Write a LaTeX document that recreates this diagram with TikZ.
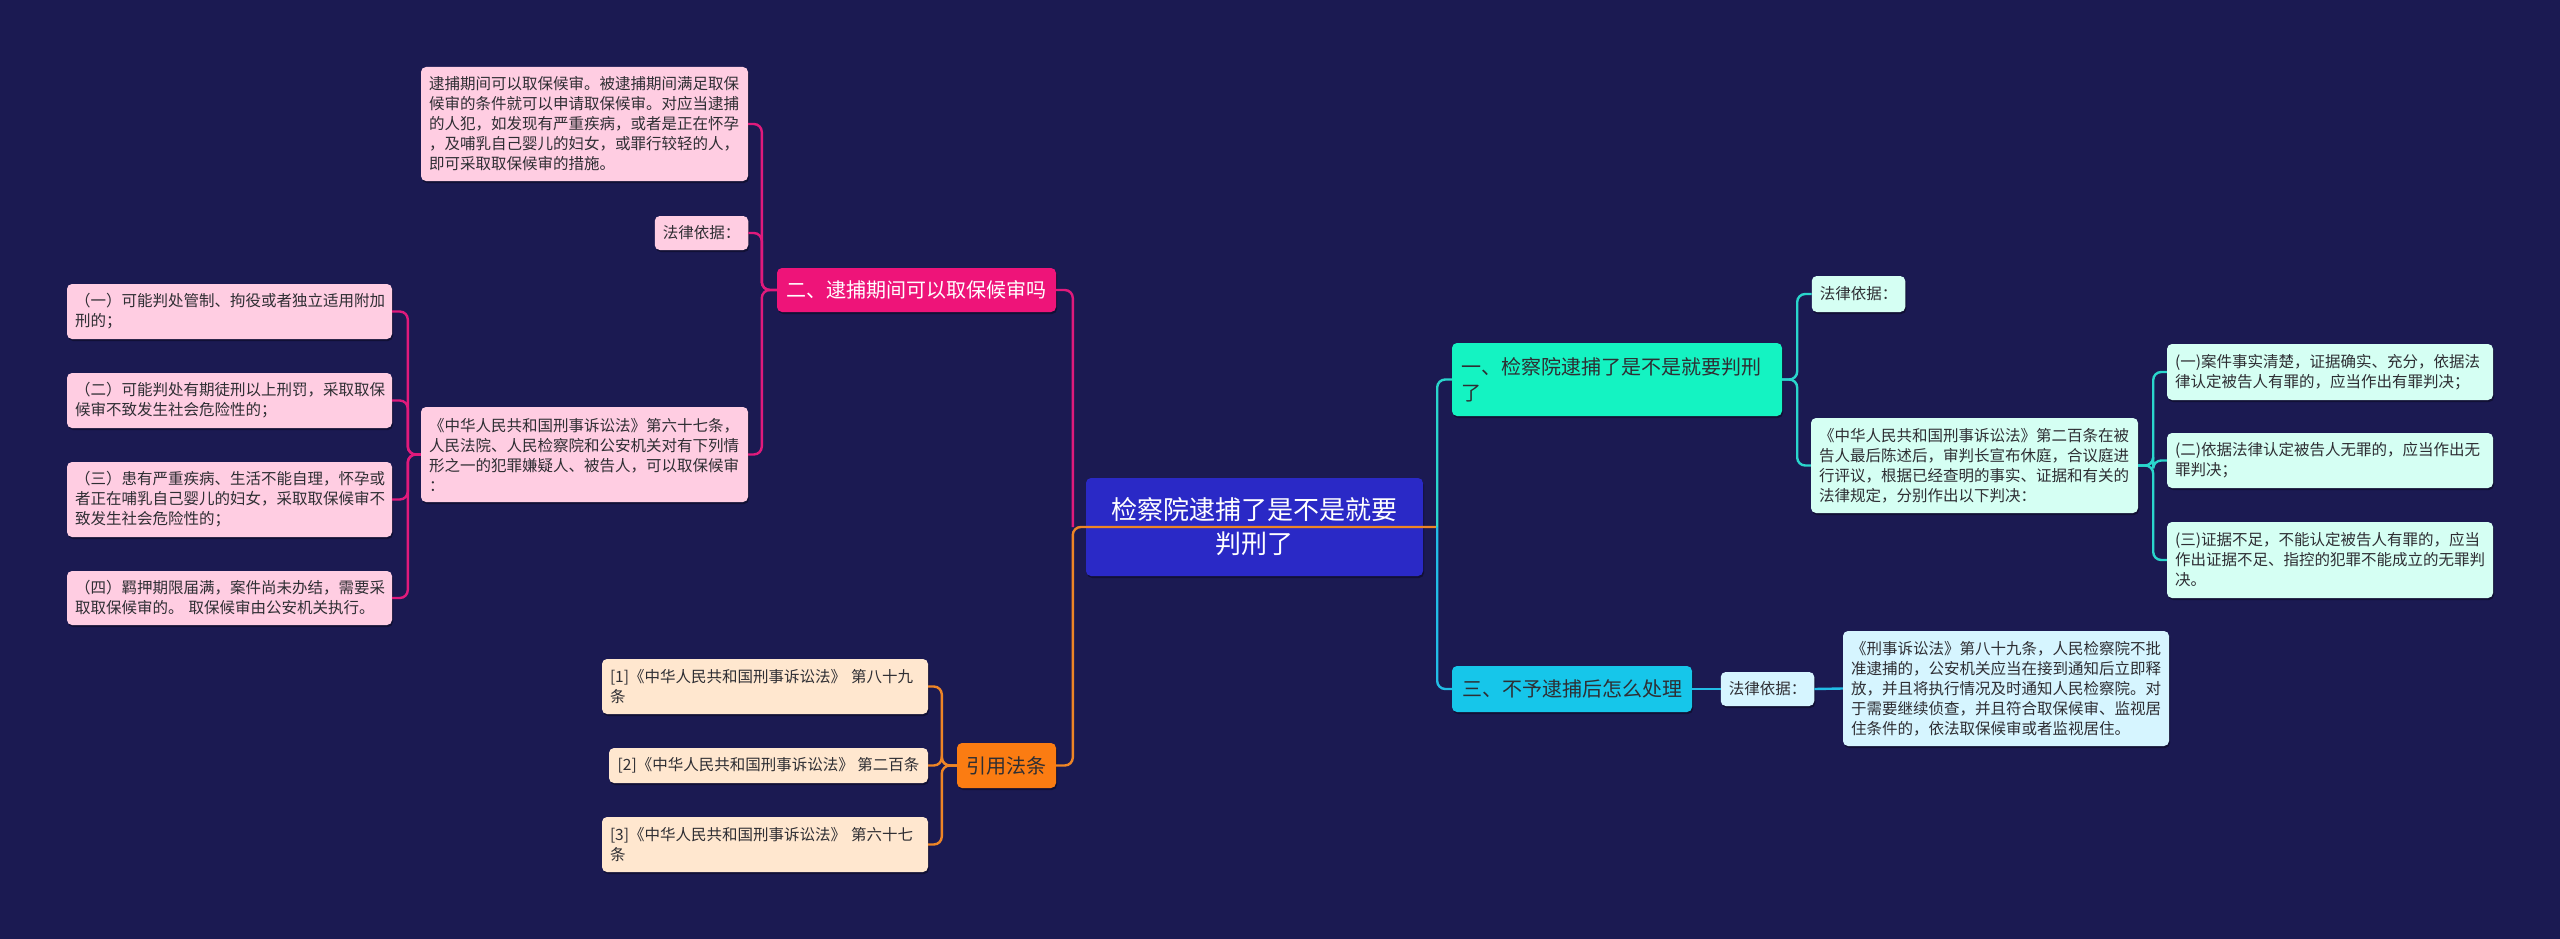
\documentclass[tikz,border=0pt]{standalone}
\usepackage{fontspec}
\newfontfamily\cjk{Noto Sans CJK SC}
\usetikzlibrary{shadows}
\definecolor{bg}{HTML}{1B1A52}
\definecolor{centerc}{HTML}{2A29C6}
\definecolor{pinkmain}{HTML}{EE1479}
\definecolor{pinklight}{HTML}{FFCDE2}
\definecolor{pinkline}{HTML}{E01A7C}
\definecolor{orgmain}{HTML}{FB7C12}
\definecolor{orglight}{HTML}{FFE7CF}
\definecolor{orgline}{HTML}{EE8526}
\definecolor{aquamain}{HTML}{14F3C2}
\definecolor{aqualight}{HTML}{D5FFF3}
\definecolor{aqualine}{HTML}{2AD6CC}
\definecolor{bluemain}{HTML}{16C6EA}
\definecolor{bluelight}{HTML}{D6F5FF}
\definecolor{blueline}{HTML}{22BDE6}
\definecolor{txt}{HTML}{2E2E33}
\begin{document}
\begin{tikzpicture}[x=1pt,y=-1pt,
  base/.style={rounded corners=5pt, inner xsep=8pt, inner ysep=0pt, align=left, text=txt,
    font=\cjk\fontsize{15.5}{20}\selectfont,
    drop shadow={shadow xshift=1pt, shadow yshift=-2pt, opacity=0.35, fill=black}},
  pbox/.style={base, fill=pinklight},
  obox/.style={base, fill=orglight},
  abox/.style={base, fill=aqualight},
  bbox/.style={base, fill=bluelight},
  mainbox/.style={base, font=\cjk\fontsize{20}{26}\selectfont, align=center},
  conn/.style={line width=2.4pt, rounded corners=8pt},
  pl/.style={conn, draw=pinkline},
  ol/.style={conn, draw=orgline},
  al/.style={conn, draw=aqualine},
  bl/.style={conn, draw=blueline}]
\useasboundingbox[fill=bg] (0,0) rectangle (2560,939);

% ---- central node
\node[base, fill=centerc, text=white, align=center, font=\cjk\fontsize{26}{34}\selectfont,
  text width=321pt, minimum height=98pt] (center) at (1254.5,527) {检察院逮捕了是不是就要\\判刑了};

% ---- left branch (pink)
\node[mainbox, fill=pinkmain, text=white, minimum width=279pt, minimum height=44pt] (er) at (916.5,290) {二、逮捕期间可以取保候审吗};
\node[pbox, text width=311pt, minimum height=114pt] (p1) at (584.5,124) {逮捕期间可以取保候审。被逮捕期间满足取保\\候审的条件就可以申请取保候审。对应当逮捕\\的人犯，如发现有严重疾病，或者是正在怀孕\\，及哺乳自己婴儿的妇女，或罪行较轻的人，\\即可采取取保候审的措施。};
\node[pbox, align=center, minimum width=93pt, minimum height=34pt] (fl1) at (701.5,233) {法律依据：};
\node[pbox, text width=311pt, minimum height=95pt] (p67) at (584.5,454.5) {《中华人民共和国刑事诉讼法》第六十七条，\\人民法院、人民检察院和公安机关对有下列情\\形之一的犯罪嫌疑人、被告人，可以取保候审\\：};
\node[pbox, text width=309pt, minimum height=55pt] (l1) at (229.5,311.5) {（一）可能判处管制、拘役或者独立适用附加\\刑的；};
\node[pbox, text width=309pt, minimum height=55pt] (l2) at (229.5,400.5) {（二）可能判处有期徒刑以上刑罚，采取取保\\候审不致发生社会危险性的；};
\node[pbox, text width=309pt, minimum height=75pt] (l3) at (229.5,499.5) {（三）患有严重疾病、生活不能自理，怀孕或\\者正在哺乳自己婴儿的妇女，采取取保候审不\\致发生社会危险性的；};
\node[pbox, text width=309pt, minimum height=54pt] (l4) at (229.5,598) {（四）羁押期限届满，案件尚未办结，需要采\\取取保候审的。 取保候审由公安机关执行。};

% ---- orange branch
\node[mainbox, fill=orgmain, text=txt, minimum width=99pt, minimum height=45pt] (yy) at (1006.5,765.5) {引用法条};
\node[obox, text width=310pt, minimum height=55pt] (r1) at (765,686.5) {[1]《中华人民共和国刑事诉讼法》 第八十九\\条};
\node[obox, inner xsep=7pt, minimum width=319pt, minimum height=35pt] (r2) at (768.5,765.5) {[2]《中华人民共和国刑事诉讼法》 第二百条};
\node[obox, text width=310pt, minimum height=55pt] (r3) at (765,844.5) {[3]《中华人民共和国刑事诉讼法》 第六十七\\条};

% ---- right branch (aqua)
\node[mainbox, fill=aquamain, align=left, text width=312pt, inner xsep=9pt, minimum height=73pt] (yi) at (1617,379.5) {一、检察院逮捕了是不是就要判刑\\了};
\node[abox, align=center, minimum width=91pt, minimum height=36pt] (fl2) at (1858.5,294) {法律依据：};
\node[abox, text width=311pt, minimum height=95pt] (b200) at (1974.5,465.5) {《中华人民共和国刑事诉讼法》第二百条在被\\告人最后陈述后，审判长宣布休庭，合议庭进\\行评议，根据已经查明的事实、证据和有关的\\法律规定，分别作出以下判决：};
\node[abox, text width=310pt, minimum height=56pt] (c1) at (2330,372) {(一)案件事实清楚，证据确实、充分，依据法\\律认定被告人有罪的，应当作出有罪判决；};
\node[abox, text width=310pt, minimum height=55pt] (c2) at (2330,460.5) {(二)依据法律认定被告人无罪的，应当作出无\\罪判决；};
\node[abox, text width=310pt, minimum height=76pt] (c3) at (2330,560) {(三)证据不足，不能认定被告人有罪的，应当\\作出证据不足、指控的犯罪不能成立的无罪判\\决。};

% ---- right branch (blue)
\node[mainbox, fill=bluemain, minimum width=240pt, minimum height=46pt] (san) at (1572,689) {三、不予逮捕后怎么处理};
\node[bbox, align=center, minimum width=91pt, minimum height=34pt] (fl3) at (1767.5,689) {法律依据：};
\node[bbox, text width=310pt, minimum height=115pt] (b89) at (2006,688.5) {《刑事诉讼法》第八十九条，人民检察院不批\\准逮捕的，公安机关应当在接到通知后立即释\\放，并且将执行情况及时通知人民检察院。对\\于需要继续侦查，并且符合取保候审、监视居\\住条件的，依法取保候审或者监视居住。};

% ---- connectors
\coordinate (cl) at ([xshift=-13pt]center.west);
\coordinate (cr) at ([xshift=14pt]center.east);
\draw[pl] (cl) |- (er.east);
\draw[pl] (er.west) -- ++(-15,0) |- (p1.east);
\draw[pl] (er.west) -- ++(-15,0) |- (fl1.east);
\draw[pl] (er.west) -- ++(-15,0) |- (p67.east);
\foreach \n in {l1,l2,l3,l4}{
  \draw[pl] (p67.west) -- ++(-13,0) |- (\n.east);
}
\draw[ol] (cr) -- (cl) |- (yy.east);
\foreach \n in {r1,r2,r3}{
  \draw[ol] (yy.west) -- ++(-15,0) |- (\n.east);
}
\draw[al] (cr) |- (yi.west);
\draw[bl] (cr) |- (san.west);
\draw[al] (yi.east) -- ++(15,0) |- (fl2.west);
\draw[al] (yi.east) -- ++(15,0) |- (b200.west);
\foreach \n in {c1,c2,c3}{
  \draw[al] (b200.east) -- ++(15,0) |- (\n.west);
}
\draw[bl] (san.east) -- (fl3.west);
\draw[bl] (fl3.east) -- (b89.west);
\end{tikzpicture}
\end{document}
